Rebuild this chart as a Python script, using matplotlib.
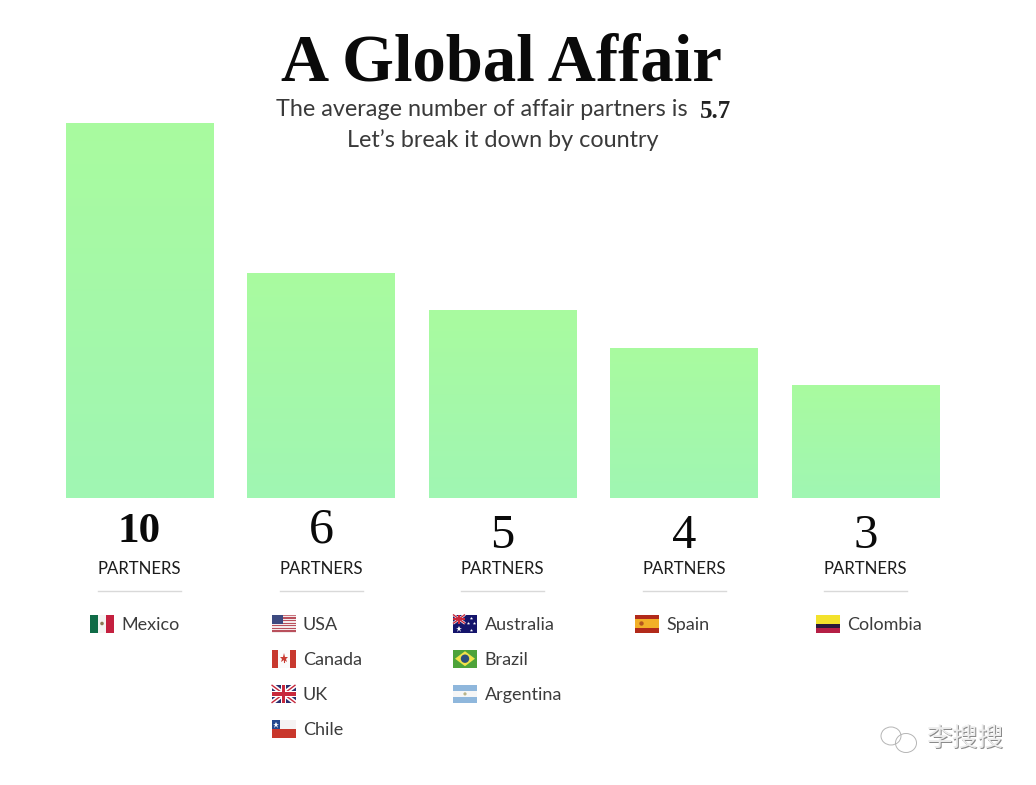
import numpy as np
import matplotlib
matplotlib.use("Agg")
import matplotlib.pyplot as plt
from matplotlib.colors import LinearSegmentedColormap
from matplotlib.patches import Rectangle, Polygon, Circle, Ellipse

values = [10, 6, 5, 4, 3]
unit_labels = ["PARTNERS"] * 5
countries = [
    ["Mexico"],
    ["USA", "Canada", "UK", "Chile"],
    ["Australia", "Brazil", "Argentina"],
    ["Spain"],
    ["Colombia"],
]
title = "A Global Affair"
sub1 = "The average number of affair partners is"
sub_value = "5.7"
sub2 = "Let\u2019s break it down by country"
watermark = "李搜搜"

W, H = 1036, 785
fig = plt.figure(figsize=(W / 100, H / 100), dpi=100, facecolor="white")

# chart axes: bars
L, R, T, B = 48.75, 956.25, 122.7, 497.9
ax = fig.add_axes([L / W, 1 - B / H, (R - L) / W, (B - T) / H])
ax.set_xlim(-0.5, 4.5)
ax.set_ylim(0, 10)
ax.axis("off")
cmap = LinearSegmentedColormap.from_list("g", ["#a0f6b3", "#a9fb9f"])
grad = np.linspace(0, 1, 256).reshape(-1, 1)
bars = ax.bar(range(len(values)), values, width=0.815, color="#a5fba6", linewidth=0)
for b, v in zip(bars, values):
    x0, w = b.get_x(), b.get_width()
    im = ax.imshow(grad, cmap=cmap, aspect="auto", origin="lower", extent=(x0, x0 + w, 0, v), zorder=3)
    im.set_clip_path(b)
ax.set_xlim(-0.5, 4.5)
ax.set_ylim(0, 10)

# overlay in pixel coordinates for text and flags
ov = fig.add_axes([0, 0, 1, 1], facecolor="none")
ov.set_xlim(0, W)
ov.set_ylim(H, 0)
ov.axis("off")

SERIF = "Liberation Serif"
SANS = "Lato"
DARK = "#3c3c3c"


def rect(x, y, w, h, c, z=5):
    ov.add_patch(Rectangle((x, y), w, h, fc=c, ec="none", zorder=z))


def flag(name, x, y):
    w, h = 24, 18
    if name == "Mexico":
        rect(x, y, 8, h, "#0f6b47"); rect(x + 8, y, 8, h, "#f4f4f2"); rect(x + 16, y, 8, h, "#c4203f")
        ov.add_patch(Circle((x + 12, y + 9), 1.8, fc="#8a7a55", ec="none", zorder=6))
    elif name == "USA":
        for i in range(7):
            rect(x, y + i * h / 7 + 0.4, w, h / 14, "#b9505c" if i else "#c9727c")
            rect(x, y + i * h / 7 + 0.4 + h / 14, w, h / 14, "#f2e9ea")
        rect(x, y, 11, 9, "#3d4a80", 6)
    elif name == "Canada":
        rect(x, y, 6, h, "#c8392f"); rect(x + 6, y, 12, h, "#fafafa"); rect(x + 18, y, 6, h, "#c8392f")
        ov.plot([x + 12], [y + 8.6], marker="*", ms=6.5, color="#c8392f", mew=0, zorder=6)
        ov.plot([x + 12, x + 12], [y + 9, y + 12.5], color="#c8392f", lw=0.8, zorder=6)
    elif name in ("UK", "AUS"):
        ww, hh = (w, h) if name == "UK" else (12, 9)
        rect(x, y, ww, hh, "#2a2f6e" if name == "UK" else "#1f1f70")
        ov.plot([x, x + ww], [y, y + hh], color="white", lw=3.0 * hh / 18 + .4, zorder=6, solid_capstyle="butt")
        ov.plot([x, x + ww], [y + hh, y], color="white", lw=3.0 * hh / 18 + .4, zorder=6, solid_capstyle="butt")
        ov.plot([x, x + ww], [y, y + hh], color="#c8283c", lw=1.0, zorder=6, solid_capstyle="butt")
        ov.plot([x, x + ww], [y + hh, y], color="#c8283c", lw=1.0, zorder=6, solid_capstyle="butt")
        rect(x + ww / 2 - ww * .1, y, ww * .2, hh, "white", 7); rect(x, y + hh / 2 - hh * .16, ww, hh * .32, "white", 7)
        rect(x + ww / 2 - ww * .055, y, ww * .11, hh, "#c8283c", 8); rect(x, y + hh / 2 - hh * .09, ww, hh * .18, "#c8283c", 8)
    elif name == "Chile":
        rect(x, y, w, 9, "#f5f3f3"); rect(x, y + 9, w, 9, "#c9372c"); rect(x, y, 8, 9, "#24478f", 6)
        ov.plot([x + 4], [y + 4.5], marker="*", ms=4.5, color="white", mew=0, zorder=7)
    elif name == "Australia":
        rect(x, y, w, h, "#14146b")
        flag("AUS", x, y)
        ov.plot([x + 6], [y + 14], marker="*", ms=5, color="white", mew=0, zorder=9)
        for dx, dy in [(18, 3), (15, 8), (21, 8), (18, 15)]:
            ov.plot([x + dx], [y + dy], marker="*", ms=2.5, color="white", mew=0, zorder=9)
    elif name == "Brazil":
        rect(x, y, w, h, "#4da33a")
        ov.add_patch(Polygon([(x + 2, y + 9), (x + 12, y + 1.5), (x + 22, y + 9), (x + 12, y + 16.5)],
                             fc="#f0e24a", ec="none", zorder=6))
        ov.add_patch(Circle((x + 12, y + 9), 4.2, fc="#2c4f7c", ec="none", zorder=7))
    elif name == "Argentina":
        rect(x, y, w, 6, "#8fb7dc"); rect(x, y + 6, w, 6, "#f6f6f6"); rect(x, y + 12, w, 6, "#8fb7dc")
        ov.add_patch(Circle((x + 12, y + 9), 1.6, fc="#b8b48a", ec="none", zorder=6))
    elif name == "Spain":
        rect(x, y, w, 4.5, "#b22a1a"); rect(x, y + 4.5, w, 9, "#f2b028"); rect(x, y + 13.5, w, 4.5, "#b22a1a")
        ov.add_patch(Circle((x + 7, y + 9), 2.2, fc="#b5561f", ec="none", zorder=6))
    elif name == "Colombia":
        rect(x, y, w, 9, "#f3e22c"); rect(x, y + 9, w, 4.5, "#2a1a3a"); rect(x, y + 13.5, w, 4.5, "#b51f45")


# title block
ov.text(501.5, 64, title, ha="center", va="center", family=SERIF, weight="bold", fontsize=48, color="#0a0a0a")
ov.text(276, 110, sub1, ha="left", va="center", family=SANS, fontsize=16.8, color="#3a3a3a")
ov.text(700, 111, sub_value, ha="left", va="center", family=SERIF, weight="bold", fontsize=18, color="#222222")
ov.text(502.5, 140, sub2, ha="center", va="center", family=SANS, fontsize=16.8, color="#3a3a3a")

# vertical placement and style of each numeral, imitating old-style figures
num_y = {10: 532, 6: 530, 5: 535.5, 4: 536.5, 3: 536.5}
num_size = {10: 31, 6: 36, 5: 35, 4: 35, 3: 35}
centers = ax.transData.transform([(i, 0) for i in range(len(values))])[:, 0]
for c, v, lab, names in zip(centers, values, unit_labels, countries):
    ov.text(c, num_y[v], str(v), ha="center", va="center", family=SERIF,
            fontsize=num_size[v], color="#0a0a0a", weight="bold" if v == 10 else "normal")
    ov.text(c, 568.5, lab, ha="center", va="center", family=SANS, fontsize=12.1, color="#1c1c1c")
    ov.plot([c - 41.5, c + 41.5], [591, 591], color="#d9d9d9", lw=1)
    fx = c - 49.5
    for j, n in enumerate(names):
        yc = 623.5 + 35.2 * j
        flag(n, fx, yc - 9)
        ov.text(fx + 31.5, yc + 1.2, n, ha="left", va="center", family=SANS, fontsize=13, color=DARK)

# watermark
for dx, col in [(0.8, "#8a8a8a"), (0, "#ececec")]:
    ov.text(964.5 + dx, 739 + dx, watermark, ha="center", va="center",
            family="Noto Sans CJK SC", fontsize=18.5, color=col, zorder=10)
for (cx, cy, rw, rh) in [(891, 736, 20, 18), (906, 743, 21, 19)]:
    ov.add_patch(Ellipse((cx, cy), rw, rh, fc="none", ec="#b5b5b5", lw=0.7, zorder=10))

fig.savefig("out.png", dpi=100, facecolor="white")
